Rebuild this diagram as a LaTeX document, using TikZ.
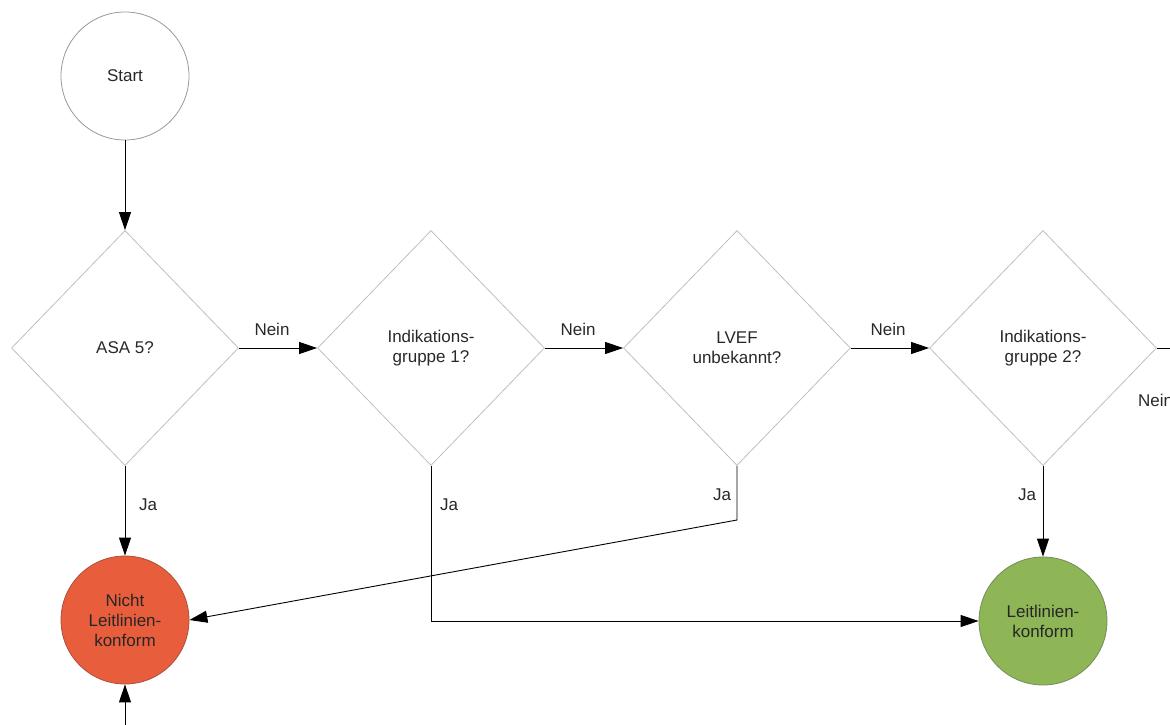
\documentclass[tikz,border=0pt]{standalone}
\usepackage{fontspec}
\setmainfont{Liberation Sans}
\usetikzlibrary{shapes.geometric,arrows.meta}
\definecolor{redfill}{RGB}{232,94,60}
\definecolor{redline}{RGB}{170,80,60}
\definecolor{greenfill}{RGB}{142,182,86}
\definecolor{greenline}{RGB}{115,140,90}
\definecolor{txt}{RGB}{40,40,40}
\begin{document}
\begin{tikzpicture}[x=1pt,y=-1pt,
  every node/.style={font=\fontsize{17}{20}\selectfont, text=txt},
  dec/.style={diamond, draw=black!25, line width=0.8pt, minimum width=227pt, minimum height=235pt, inner sep=0pt, align=center},
  term/.style={circle, line width=0.8pt, minimum size=128pt, inner sep=0pt, align=center},
  arr/.style={draw=black, line width=0.9pt, -{Triangle[length=18pt,width=12pt]}},
  lbl/.style={inner sep=0pt}
]
\useasboundingbox (0,0) rectangle (1170,725);
\clip (0,0) rectangle (1170,725);

\node[term, draw=black!40] (start) at (125,76) {Start};
\node[dec] (d1) at (125,348) {ASA 5?};
\node[dec] (d2) at (431,348) {Indikations-\\gruppe 1?};
\node[dec] (d3) at (737,348) {LVEF\\unbekannt?};
\node[dec] (d4) at (1043,348) {Indikations-\\gruppe 2?};
\node[term, draw=redline, fill=redfill, text=black!85] (nlk) at (125,620) {Nicht\\Leitlinien-\\konform};
\node[term, draw=greenline, fill=greenfill, text=black!85] (lk) at (1043,621) {Leitlinien-\\konform};

\coordinate (offright) at (1210,348);
\coordinate (offbottom) at (125,760);
\coordinate (b3) at (737,520);
\coordinate (b2) at (431,621);

\draw[arr] (start) -- (d1.north);
\draw[arr] (d1.east) -- (d2.west);
\draw[arr] (d2.east) -- (d3.west);
\draw[arr] (d3.east) -- (d4.west);
\draw[arr] (d4.east) -- (offright);
\draw[arr] (d1.south) -- (nlk.north);
\draw[arr] (d2.south) -- (b2) -- (lk.west);
\draw[arr] (d3.south) -- (b3) -- (nlk.east);
\draw[arr] (d4.south) -- (lk.north);
\draw[arr] (offbottom) -- (nlk.south);

\node[lbl] (n1) at (272,329) {Nein};
\node[lbl] (n2) at (578,329) {Nein};
\node[lbl] (n3) at (888,329) {Nein};
\node[lbl, anchor=west] (n4) at (1138,400) {Nein};
\node[lbl] (j1) at (148,505) {Ja};
\node[lbl] (j2) at (449,505) {Ja};
\node[lbl] (j3) at (722,495) {Ja};
\node[lbl] (j4) at (1027,495) {Ja};
\end{tikzpicture}
\end{document}
